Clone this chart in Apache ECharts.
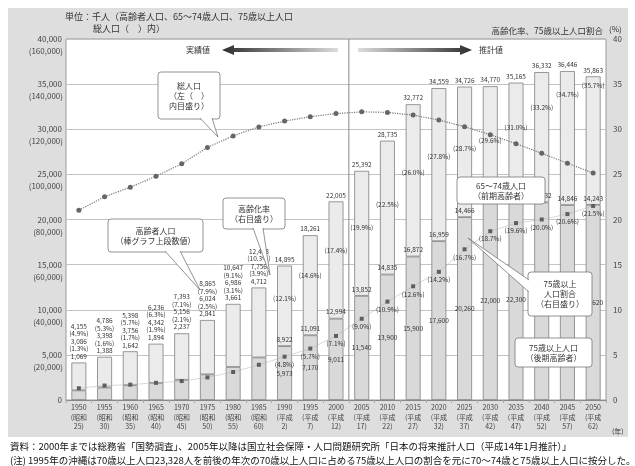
<!DOCTYPE html>
<html lang="ja">
<head>
<meta charset="UTF-8">
<title>高齢者人口及び割合の推移</title>
<script src="https://cdn.jsdelivr.net/npm/echarts@6/dist/echarts.min.js"></script>
<style>
  html, body { margin: 0; padding: 0; background: #fff; }
  #chart { width: 635px; height: 466px; }
</style>
</head>
<body>
<div id="chart"></div>
<script type="text/javascript">
    // 年次
    var years = ['1950', '1955', '1960', '1965', '1970', '1975', '1980', '1985', '1990', '1995', '2000',
        '2005', '2010', '2015', '2020', '2025', '2030', '2035', '2040', '2045', '2050'];
    var era = ['昭和', '昭和', '昭和', '昭和', '昭和', '昭和', '昭和', '昭和', '平成', '平成', '平成',
        '平成', '平成', '平成', '平成', '平成', '平成', '平成', '平成', '平成', '平成'];
    var eraYear = ['25', '30', '35', '40', '45', '50', '55', '60', '2', '7', '12',
        '17', '22', '27', '32', '37', '42', '47', '52', '57', '62'];

    // 千人
    var total65 = [4155, 4786, 5398, 6236, 7393, 8865, 10647, 12468, 14895, 18261, 22005,
        25392, 28735, 32772, 34559, 34726, 34770, 35165, 36332, 36446, 35863];
    var young74 = [3086, 3398, 3756, 4342, 5156, 6024, 6986, 7756, 8922, 11091, 12994,
        13852, 14835, 16872, 16959, 14466, 12770, 12865, 14432, 14846, 14243];
    var old75 = [1069, 1388, 1642, 1894, 2237, 2841, 3661, 4712, 5973, 7170, 9011,
        11540, 13900, 15900, 17600, 20260, 22000, 22300, 21900, 21600, 21620];
    var totalPop = [84115, 90077, 94302, 99209, 104665, 111940, 117060, 121049, 123611, 125570, 126926,
        127708, 127473, 126266, 124107, 121136, 117580, 113602, 109338, 104960, 100593];

    // %
    var agingRate = [4.9, 5.3, 5.7, 6.3, 7.1, 7.9, 9.1, 10.3, 12.1, 14.6, 17.4,
        19.9, 22.5, 26.0, 27.8, 28.7, 29.6, 31.0, 33.2, 34.7, 35.7];
    var share75 = [1.3, 1.6, 1.7, 1.9, 2.1, 2.5, 3.1, 3.9, 4.8, 5.7, 7.1,
        9.0, 10.9, 12.6, 14.2, 16.7, 18.7, 19.6, 20.0, 20.6, 21.5];

    var FONT = '"Noto Sans CJK JP", "Noto Sans", sans-serif';
    var SPLIT = 8; // 1990年以降は棒の中に数値を入れる

    var myChart = echarts.init(document.getElementById('chart'));

    function fmt(v) {
        return Number(v).toLocaleString('en-US');
    }
    function pct(v) {
        return '(' + Number(v).toFixed(1) + '%)';
    }
    function withLabel(arr) {
        return arr.map(function (v, i) {
            return { value: v, label: { show: i >= SPLIT } };
        });
    }

    var small = { fontSize: 6.5, color: '#333', fontFamily: FONT, lineHeight: 7.5 };

    var option = {
        animation: false,
        textStyle: { fontFamily: FONT },
        grid: { left: 66, right: 29, top: 39, bottom: 66 },
        xAxis: {
            type: 'category',
            data: years,
            axisLine: { lineStyle: { color: '#888' } },
            axisTick: { show: true, length: 3, lineStyle: { color: '#aaa' } },
            axisLabel: {
                interval: 0, fontSize: 7, lineHeight: 9.5, color: '#444', margin: 3,
                formatter: function (v, i) {
                    return v + '\n(' + era[i] + '\n' + eraYear[i] + ')';
                }
            }
        },
        yAxis: [
            {
                type: 'value', min: 0, max: 40000, interval: 5000, position: 'left',
                axisLine: { show: false }, axisTick: { show: false },
                axisLabel: { fontSize: 8, color: '#444', margin: 4, formatter: fmt },
                splitLine: { lineStyle: { color: '#c4c4c4' } }
            },
            {
                type: 'value', min: 0, max: 160000, interval: 20000, position: 'left',
                axisLine: { show: false }, axisTick: { show: false },
                axisLabel: {
                    fontSize: 8, color: '#444', margin: 3, verticalAlign: 'top', padding: [8, 0, 0, 0],
                    formatter: function (v) { return v === 0 ? '' : '(' + fmt(v) + ')'; }
                },
                splitLine: { show: false }
            },
            {
                type: 'value', min: 0, max: 40, interval: 5, position: 'right',
                axisLine: { show: false }, axisTick: { show: false },
                axisLabel: { fontSize: 8, color: '#444', margin: 7 },
                splitLine: { show: false }
            }
        ],
        series: [
            {
                name: '75歳以上人口', type: 'bar', stack: 'p', barWidth: '58%',
                data: withLabel(old75),
                itemStyle: { color: '#d9d9d9', borderColor: '#808080', borderWidth: 0.8 },
                label: Object.assign({ position: 'inside', formatter: function (p) { return fmt(p.value); } }, small)
            },
            {
                name: '65～74歳人口', type: 'bar', stack: 'p',
                data: withLabel(young74),
                itemStyle: { color: '#ebebeb', borderColor: '#808080', borderWidth: 0.8 },
                label: Object.assign({ position: 'insideBottom', distance: 3, formatter: function (p) { return fmt(p.value); } }, small)
            },
            {
                name: '高齢者人口', type: 'line', yAxisIndex: 0, data: total65,
                symbol: 'circle', symbolSize: 1, silent: true,
                itemStyle: { color: 'rgba(0,0,0,0)' }, lineStyle: { width: 0, opacity: 0 },
                label: Object.assign({
                    show: true, position: 'top', distance: 2,
                    formatter: function (p) {
                        var i = p.dataIndex;
                        if (i < SPLIT) {
                            return fmt(total65[i]) + '\n' + pct(agingRate[i]) + '\n' + fmt(young74[i]) +
                                '\n' + pct(share75[i]) + '\n' + fmt(old75[i]);
                        }
                        return fmt(p.value);
                    }
                }, small),
                z: 6
            },
            {
                name: '高齢化率', type: 'line', yAxisIndex: 2, data: withLabel(agingRate),
                symbol: 'circle', symbolSize: 1, silent: true,
                itemStyle: { color: 'rgba(0,0,0,0)' }, lineStyle: { width: 0, opacity: 0 },
                label: Object.assign({ position: 'bottom', distance: 3, formatter: function (p) { return pct(p.value); } }, small),
                z: 6
            },
            {
                name: '総人口', type: 'line', yAxisIndex: 1, data: totalPop,
                symbol: 'circle', symbolSize: 5,
                itemStyle: { color: '#666' },
                lineStyle: { type: 'dotted', color: '#777', width: 1.2 },
                z: 5
            },
            {
                name: '75歳以上人口割合', type: 'line', yAxisIndex: 2, data: withLabel(share75),
                symbol: 'rect', symbolSize: 4,
                itemStyle: { color: '#5e5e5e' },
                lineStyle: { color: '#b0b0b0', width: 0.5 },
                label: Object.assign({ position: 'bottom', distance: 2, formatter: function (p) { return pct(p.value); } }, small),
                z: 5
            }
        ]
    };
    myChart.setOption(option);

    // 注記・枠
    var plotL = 66, plotR = 606, plotT = 39, plotB = 400;
    var divX = (myChart.convertToPixel({ xAxisIndex: 0 }, '2000') + myChart.convertToPixel({ xAxisIndex: 0 }, '2005')) / 2;

    function txt(x, y, s, size, align, color, z) {
        return {
            type: 'text', x: x, y: y, z: z || 60,
            style: {
                text: s, fontSize: size, fontFamily: FONT, fill: color || '#333',
                align: align || 'left', textAlign: align || 'left',
                verticalAlign: 'middle', textVerticalAlign: 'middle', lineHeight: size + 2
            }
        };
    }

    function callout(x, y, w, h, s, ptr) {
        var els = [{
            type: 'rect', z: 50,
            shape: { x: x, y: y, width: w, height: h, r: 3 },
            style: { fill: '#fff', stroke: '#777', lineWidth: 0.8 }
        }];
        if (ptr) {
            els.push({ type: 'polygon', z: 51, shape: { points: ptr }, style: { fill: '#fff' } });
            els.push({ type: 'polyline', z: 51, shape: { points: ptr }, style: { stroke: '#777', fill: null, lineWidth: 0.8 } });
        }
        els.push(txt(x + w / 2, y + h / 2, s, 8, 'center', '#333', 52));
        return els;
    }

    var graphics = [
        { type: 'rect', z: -10, silent: true, shape: { x: 8, y: 8, width: 620, height: 429 }, style: { fill: '#dedede' } },
        { type: 'rect', z: -9, silent: true, shape: { x: plotL, y: plotT, width: plotR - plotL, height: plotB - plotT }, style: { fill: '#fff', stroke: '#9a9a9a', lineWidth: 1 } },
        { type: 'line', z: 3, shape: { x1: divX, y1: plotT, x2: divX, y2: plotB }, style: { stroke: '#888', lineWidth: 1 } },
        // 矢印
        {
            type: 'polygon', z: 4,
            shape: { points: [[222, 50], [234, 45], [234, 48], [338, 48], [338, 52], [234, 52], [234, 55]] },
            style: { fill: new echarts.graphic.LinearGradient(0, 0, 1, 0, [{ offset: 0, color: '#2e2e2e' }, { offset: 1, color: '#dcdcdc' }]) }
        },
        {
            type: 'polygon', z: 4,
            shape: { points: [[358, 48], [460, 48], [460, 45], [472, 50], [460, 55], [460, 52], [358, 52]] },
            style: { fill: new echarts.graphic.LinearGradient(0, 0, 1, 0, [{ offset: 0, color: '#dcdcdc' }, { offset: 1, color: '#2e2e2e' }]) }
        },
        txt(198, 50, '実績値', 8, 'center'),
        txt(491, 50, '推計値', 8, 'center'),
        txt(65, 17, '単位：千人（高齢者人口、65～74歳人口、75歳以上人口', 9, 'left'),
        txt(93, 29, '総人口（　）内）', 9, 'left'),
        txt(603, 31, '高齢化率、75歳以上人口割合', 8.5, 'right'),
        txt(609, 29, '(%)', 8, 'left'),
        txt(612, 431, '(年)', 7, 'left'),
        txt(10, 446, '資料：2000年までは総務省「国勢調査」、2005年以降は国立社会保障・人口問題研究所「日本の将来推計人口（平成14年1月推計）」', 9.5, 'left', '#111'),
        txt(10, 460, '(注) 1995年の沖縄は70歳以上人口23,328人を前後の年次の70歳以上人口に占める75歳以上人口の割合を元に70～74歳と75歳以上人口に按分した。', 9.5, 'left', '#111')
    ];

    graphics = graphics
        .concat(callout(158, 72, 62, 47, '総人口\n（左（　）\n内目盛り）', [[200, 118], [218, 137], [212, 118]]))
        .concat(callout(108, 219, 95, 33, '高齢者人口\n（棒グラフ上段数値）', [[165, 251], [200, 290], [180, 251]]))
        .concat(callout(223, 198, 62, 31, '高齢化率\n（右目盛り）', [[253, 228], [270, 275], [263, 228]]))
        .concat(callout(457, 177, 88, 27, '65～74歳人口\n（前期高齢者）'))
        .concat(callout(528, 272, 64, 44, '75歳以上\n人口割合\n（右目盛り）', [[529, 280], [468, 238], [529, 292]]))
        .concat(callout(515, 338, 77, 29, '75歳以上人口\n（後期高齢者）'));

    myChart.setOption({ graphic: graphics });
</script>
</body>
</html>
